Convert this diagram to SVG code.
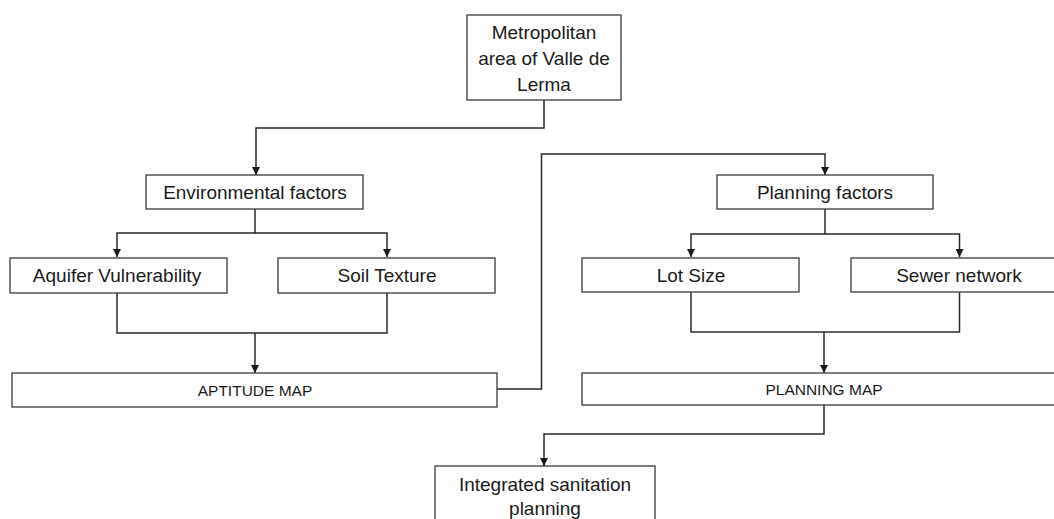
<svg xmlns="http://www.w3.org/2000/svg" width="1054" height="519" viewBox="0 0 1054 519">
<style>
.box{fill:#fff;stroke:#3a3a3a;stroke-width:1.3}
.lbl{font-family:"Liberation Sans",Arial,sans-serif;font-size:19px;fill:#1a1a1a;text-anchor:middle}
.sm{font-size:15.5px}
.con{fill:none;stroke:#2a2a2a;stroke-width:1.5}
</style>
<defs>
<marker id="ah" viewBox="0 0 10 10" refX="10" refY="5" markerWidth="8" markerHeight="8" markerUnits="userSpaceOnUse" orient="auto">
<path d="M0,0 L10,5 L0,10 z" fill="#1a1a1a"/>
</marker>
</defs>
<rect width="1054" height="519" fill="#fff"/>
<g id="connectors">
<path class="con" d="M544,100 V128 H256 V175" marker-end="url(#ah)"/>
<path class="con" d="M255,209 V233 H117 V257" marker-end="url(#ah)"/>
<path class="con" d="M255,233 H387 V257" marker-end="url(#ah)"/>
<path class="con" d="M117,293 V333 H387 V293"/>
<path class="con" d="M255,333 V373" marker-end="url(#ah)"/>
<path class="con" d="M497,389 H541.5 V154 H825 V175" marker-end="url(#ah)"/>
<path class="con" d="M825,209 V234 H691 V257" marker-end="url(#ah)"/>
<path class="con" d="M825,234 H959.5 V257" marker-end="url(#ah)"/>
<path class="con" d="M691,292 V332 H959.5 V292"/>
<path class="con" d="M824,332 V373" marker-end="url(#ah)"/>
<path class="con" d="M824,405 V434 H544 V466" marker-end="url(#ah)"/>
</g>
<g id="metro">
<rect class="box" x="467" y="15" width="154" height="85"/>
<text class="lbl" x="544" y="39">Metropolitan</text>
<text class="lbl" x="544" y="65">area of Valle de</text>
<text class="lbl" x="544" y="91">Lerma</text>
</g>
<g id="env">
<rect class="box" x="146" y="175" width="217" height="34"/>
<text class="lbl" x="255" y="199">Environmental factors</text>
</g>
<g id="aquifer">
<rect class="box" x="10" y="258" width="217" height="35"/>
<text class="lbl" x="117" y="282">Aquifer Vulnerability</text>
</g>
<g id="soil">
<rect class="box" x="278" y="258" width="217" height="35"/>
<text class="lbl" x="387" y="282">Soil Texture</text>
</g>
<g id="aptitude">
<rect class="box" x="12" y="373" width="485" height="34"/>
<text class="lbl sm" x="255" y="396">APTITUDE MAP</text>
</g>
<g id="planningf">
<rect class="box" x="717" y="175" width="216" height="34"/>
<text class="lbl" x="825" y="199">Planning factors</text>
</g>
<g id="lot">
<rect class="box" x="582" y="258" width="217" height="34"/>
<text class="lbl" x="691" y="282">Lot Size</text>
</g>
<g id="sewer">
<rect class="box" x="851" y="258" width="215" height="34"/>
<text class="lbl" x="959" y="282">Sewer network</text>
</g>
<g id="planmap">
<rect class="box" x="582" y="373" width="484" height="32"/>
<text class="lbl sm" x="824" y="395">PLANNING MAP</text>
</g>
<g id="integrated">
<rect class="box" x="435" y="466" width="220" height="70"/>
<text class="lbl" x="545" y="491">Integrated sanitation</text>
<text class="lbl" x="545" y="515">planning</text>
</g>
</svg>
